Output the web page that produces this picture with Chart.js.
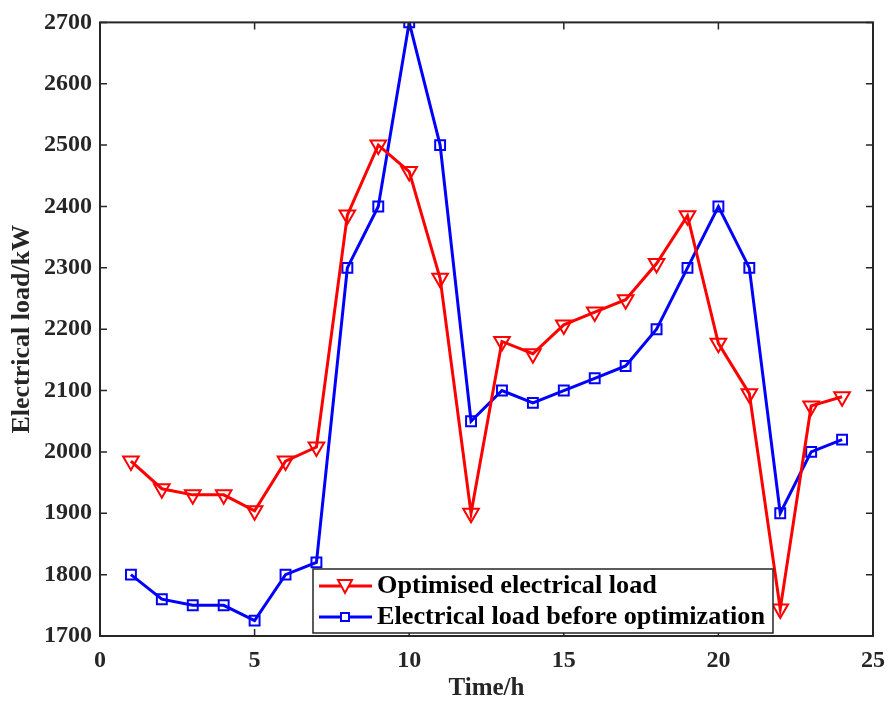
<!DOCTYPE html>
<html>
<head>
<meta charset="utf-8">
<script src="https://cdn.jsdelivr.net/npm/chart.js@4/dist/chart.umd.min.js"></script>
<style>
  html, body { margin: 0; padding: 0; background: #fff; }
  #wrap { width: 890px; height: 702px; }
</style>
</head>
<body>
<div id="wrap"><canvas id="grafica" width="890" height="702"></canvas></div>
<script>
// datos
const horas = [1, 2, 3, 4, 5, 6, 7, 8, 9, 10, 11, 12, 13, 14, 15, 16, 17, 18, 19, 20, 21, 22, 23, 24];
const cargaOptimizada = [1985, 1940, 1930, 1930, 1904, 1985, 2008, 2386, 2500, 2457, 2283, 1900,
    2180, 2160, 2207, 2228, 2248, 2307, 2385, 2177, 2095, 1744, 2075, 2090];
const cargaAntes = [1800, 1760, 1750, 1750, 1725, 1800, 1820, 2300, 2400, 2700, 2500, 2050,
    2100, 2080, 2100, 2120, 2140, 2200, 2300, 2400, 2300, 1900, 2000, 2020];
const etiquetas = ["Optimised electrical load", "Electrical load before optimization"];
const ticksX = [0, 5, 10, 15, 20, 25];
const ticksY = [1700, 1800, 1900, 2000, 2100, 2200, 2300, 2400, 2500, 2600, 2700];

const ROJO = "#ff0000";
const AZUL = "#0000ff";
const EJE = "#262626";
const FUENTE = "'Liberation Serif', 'Times New Roman', serif";

// marco, marcas hacia dentro y leyenda
const marcoPlugin = {
    id: "marco",
    afterDraw(chart) {
        const { ctx, chartArea: a, scales } = chart;
        ctx.save();
        ctx.strokeStyle = EJE;
        ctx.lineWidth = 2;
        ctx.strokeRect(a.left, a.top, a.right - a.left, a.bottom - a.top);
        ctx.lineWidth = 1.5;
        const largo = 7;
        ctx.beginPath();
        ticksX.forEach(v => {
            const px = scales.x.getPixelForValue(v);
            ctx.moveTo(px, a.bottom); ctx.lineTo(px, a.bottom - largo);
            ctx.moveTo(px, a.top); ctx.lineTo(px, a.top + largo);
        });
        ticksY.forEach(v => {
            const py = scales.y.getPixelForValue(v);
            ctx.moveTo(a.left, py); ctx.lineTo(a.left + largo, py);
            ctx.moveTo(a.right, py); ctx.lineTo(a.right - largo, py);
        });
        ctx.stroke();

        // leyenda
        const bx = 313, by = 569, bw = 460, bh = 64;
        ctx.fillStyle = "#fff";
        ctx.fillRect(bx, by, bw, bh);
        ctx.lineWidth = 1.5;
        ctx.strokeStyle = EJE;
        ctx.strokeRect(bx, by, bw, bh);
        const filas = [by + 17, by + 48];
        chart.data.datasets.forEach((ds, i) => {
            const y = filas[i];
            ctx.strokeStyle = ds.borderColor;
            ctx.lineWidth = 3;
            ctx.beginPath();
            ctx.moveTo(319, y); ctx.lineTo(372, y);
            ctx.stroke();
            ctx.lineWidth = 2;
            ctx.fillStyle = "#fff";
            ctx.beginPath();
            if (i === 0) {
                ctx.moveTo(338, y - 6); ctx.lineTo(352, y - 6); ctx.lineTo(345, y + 7); ctx.closePath();
            } else {
                ctx.rect(341, y - 4, 8, 8);
            }
            ctx.fill();
            ctx.stroke();
            // texto algo estirado en horizontal como en la figura original
            ctx.save();
            ctx.translate(377, y + 1);
            ctx.scale(1.05, 1);
            ctx.font = "bold 25px " + FUENTE;
            ctx.textBaseline = "middle";
            ctx.fillStyle = "#000";
            ctx.fillText(ds.label, 0, 0);
            ctx.restore();
        });
        ctx.restore();
    }
};

const ctx = document.getElementById("grafica").getContext("2d");

const grafica = new Chart(ctx, {
    type: "line",
    data: {
        datasets: [{
            label: etiquetas[0],
            data: horas.map((h, i) => ({ x: h, y: cargaOptimizada[i] })),
            borderColor: ROJO,
            backgroundColor: "rgba(255,255,255,0)",
            borderWidth: 3,
            pointStyle: "triangle",
            rotation: 180,
            pointRadius: 9,
            pointBorderWidth: 2,
            pointBorderColor: ROJO,
            pointBackgroundColor: "rgba(255,255,255,0)"
        }, {
            label: etiquetas[1],
            data: horas.map((h, i) => ({ x: h, y: cargaAntes[i] })),
            borderColor: AZUL,
            backgroundColor: "rgba(255,255,255,0)",
            borderWidth: 3,
            pointStyle: "rect",
            pointRadius: 7,
            pointBorderWidth: 2,
            pointBorderColor: AZUL,
            pointBackgroundColor: "rgba(255,255,255,0)"
        }]
    },
    options: {
        responsive: false,
        animation: false,
        layout: { padding: { top: 22, right: 17, left: 0, bottom: 0 } },
        plugins: {
            legend: { display: false },
            tooltip: { enabled: false }
        },
        scales: {
            x: {
                type: "linear",
                min: 0,
                max: 25,
                afterBuildTicks: s => { s.ticks = ticksX.map(v => ({ value: v })); },
                afterFit: s => { s.height = 66; s.paddingLeft = 0; s.paddingRight = 0; },
                grid: { display: false, drawTicks: false },
                border: { display: false },
                ticks: {
                    padding: 10,
                    color: EJE,
                    callback: v => String(v),
                    font: { family: FUENTE, size: 24, weight: "bold" }
                },
                title: {
                    display: true,
                    text: "Time/h",
                    color: EJE,
                    padding: { top: 0, bottom: 1 },
                    font: { family: FUENTE, size: 25, weight: "bold", lineHeight: 1 }
                }
            },
            y: {
                min: 1700,
                max: 2700,
                afterBuildTicks: s => { s.ticks = ticksY.map(v => ({ value: v })); },
                afterFit: s => { s.width = 100; },
                grid: { display: false, drawTicks: false },
                border: { display: false },
                ticks: {
                    padding: 8,
                    color: EJE,
                    callback: v => String(v),
                    font: { family: FUENTE, size: 24, weight: "bold" }
                },
                title: {
                    display: true,
                    text: "Electrical load/kW",
                    color: EJE,
                    padding: { top: 9, bottom: 0 },
                    font: { family: FUENTE, size: 26, weight: "bold", lineHeight: 1 }
                }
            }
        }
    },
    plugins: [marcoPlugin]
});
</script>
</body>
</html>
